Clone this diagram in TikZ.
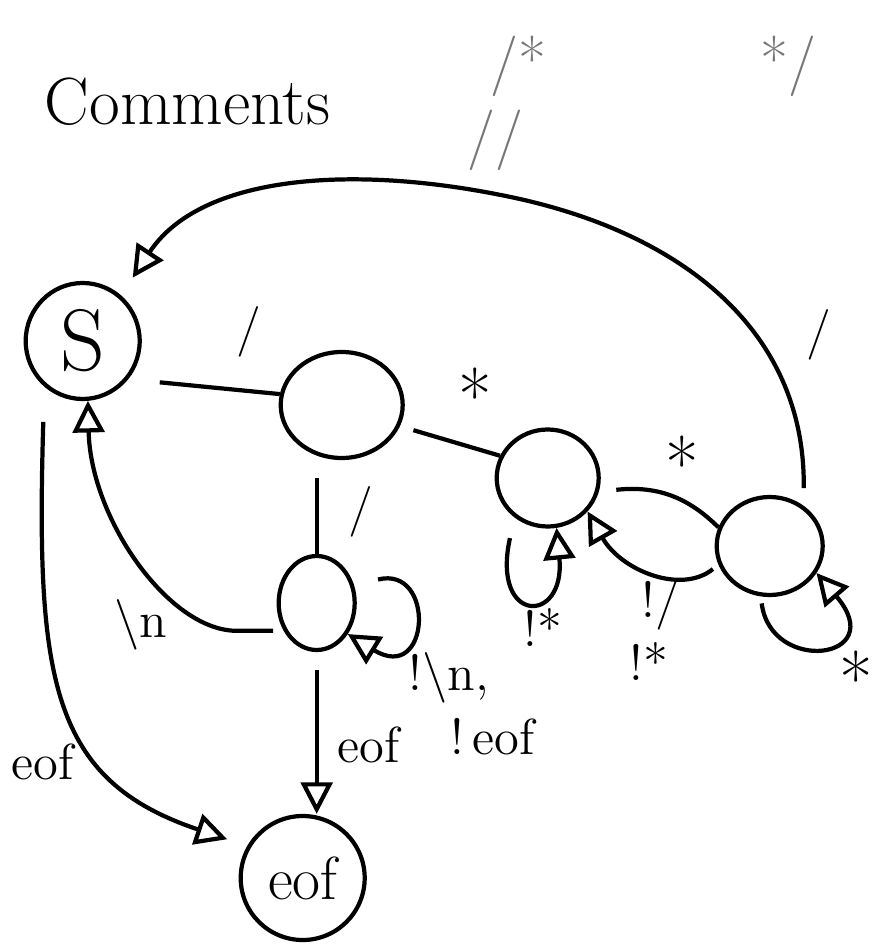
\documentclass[tikz,border=0pt]{standalone}
\usepackage{tikz}
\usetikzlibrary{arrows.meta,shapes.geometric}
\definecolor{note}{HTML}{777777}

\begin{document}
\begin{tikzpicture}[x=1cm, y=-1cm, line width=1.2pt,
  stnode/.style={draw, ellipse, inner sep=0pt},
  lbl/.style={font=\Large},
  starlbl/.style={font=\huge},
  arr/.style={-{Triangle[open,length=9pt,width=9pt]}}]
\fill[white] (0,0) rectangle (8.81,9.45);
% title and comment markers
\node[font=\fontsize{19}{22}\selectfont] (title) at (1.87,1.02) {Comments};
\node[note, font=\LARGE] (openmark) at (5.18,0.66) {/*};
\node[note, font=\LARGE] (closemark) at (7.88,0.66) {*/};
\node[note, font=\LARGE] (linemark) at (4.95,1.40) {//};
% states
\node[stnode, minimum width=1.14cm, minimum height=1.16cm, font=\Huge] (s) at (0.82,3.41) {S};
\node[stnode, minimum width=1.22cm, minimum height=1.06cm] (slash) at (3.41,4.05) {};
\node[stnode, minimum width=1.02cm, minimum height=0.97cm] (block) at (5.47,4.78) {};
\node[stnode, minimum width=0.76cm, minimum height=0.94cm] (line) at (3.16,6.03) {};
\node[stnode, minimum width=1.06cm, minimum height=0.98cm] (star) at (7.69,5.46) {};
\node[stnode, minimum width=1.24cm, minimum height=1.24cm, font=\LARGE] (eof) at (3.02,8.78) {eof};
% transitions
\draw[shorten <=9pt] (s.-40) -- (slash.170);
\draw[shorten <=4pt] (slash.-20) -- (block.155);
\draw[shorten <=5pt] (slash.south -| line.north) -- (line.north);
\draw[shorten <=5pt] (block.-15) .. controls (6.6,4.85) and (6.9,5.0) .. (star.160);
\draw[arr, shorten <=2pt] (star.200) .. controls (6.8,5.95) and (6.2,5.7) .. (block.-40);
\draw[arr, shorten <=6pt] (block.-130) .. controls (4.9,6.25) and (5.65,6.25) .. (block.-80);
\draw[arr, shorten <=2pt] (star.-100) .. controls (7.7,6.75) and (8.9,6.6) .. (star.-30);
\draw[arr, shorten <=5pt, shorten >=6pt] (star.50) .. controls (8.05,3.3) and (6.8,2.3) .. (5.0,1.95)
  .. controls (3.5,1.65) and (2.0,1.75) .. (s.50);
\draw[arr, shorten <=3pt] (line.220) -- ++(-0.45,0) .. controls (1.7,6.33) and (0.9,5.2) .. (s.-85);
\draw[arr, shorten <=10pt, shorten >=6pt] (s.-130) .. controls (0.35,6.8) and (0.5,7.8) .. (eof.150);
\draw[arr, shorten <=5pt] (line.south) -- (line.south |- eof.north);
\draw[arr, shorten <=7pt] (line.25) .. controls (4.35,5.65) and (4.3,6.85) .. (line.-45);
% labels
\node[lbl] (kslash1) at (2.48,3.32) {/};
\node[starlbl] (kstar1) at (4.75,3.95) {*};
\node[lbl] (kslash2) at (3.60,5.12) {/};
\node[starlbl] (kstar2) at (6.82,4.63) {*};
\node[lbl] (kslash3) at (8.18,3.35) {/};
\node[lbl] (knstar1) at (5.42,6.28) {!*};
\node[lbl] (knslash) at (6.60,6.05) {!/};
\node[lbl] (knstar2) at (6.48,6.62) {!*};
\node[starlbl] (kstar3) at (8.56,6.78) {*};
\node[lbl] (knl) at (1.40,6.25) {\textbackslash n};
\node[lbl] (keof1) at (0.42,7.62) {eof};
\node[lbl] (keof2) at (3.68,7.45) {eof};
\node[lbl] (knotnl) at (4.48,6.78) {!\textbackslash n,};
\node[lbl] (knoteof) at (4.92,7.37) {!\,eof};
\end{tikzpicture}
\end{document}
